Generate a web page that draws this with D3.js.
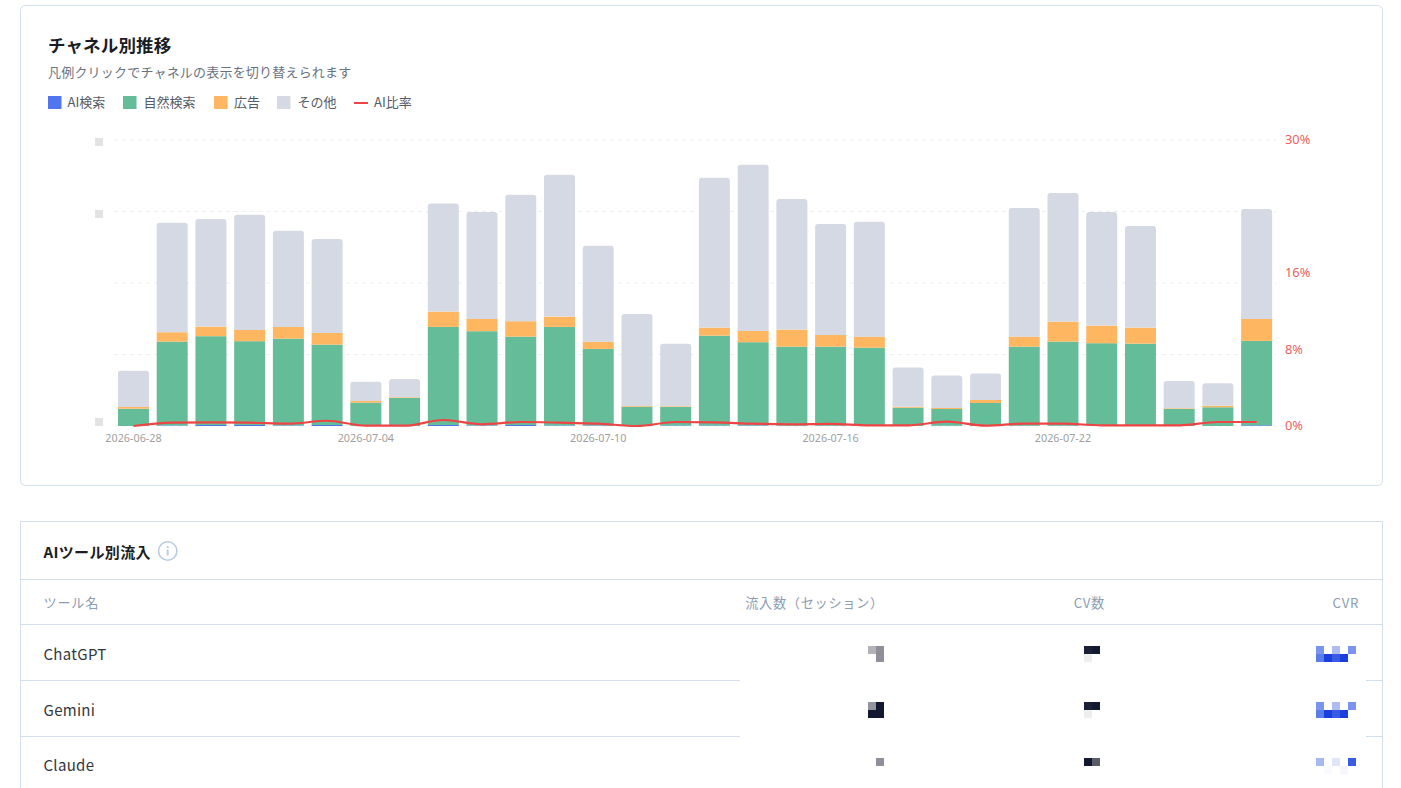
<!DOCTYPE html>
<html lang="ja">
<head>
<meta charset="utf-8">
<script src="https://cdn.jsdelivr.net/npm/d3@7"></script>
<style>
  html, body { margin: 0; padding: 0; background: #fff; overflow: hidden; }
  svg { display: block; }
  text { font-family: "Noto Sans CJK JP", "Noto Sans", sans-serif; }
</style>
</head>
<body>
<svg id="page" width="1401" height="788"></svg>
<script>
// Chart data
const dates = ["2026-06-28","2026-06-29","2026-06-30","2026-07-01","2026-07-02","2026-07-03","2026-07-04","2026-07-05","2026-07-06","2026-07-07",
  "2026-07-08","2026-07-09","2026-07-10","2026-07-11","2026-07-12","2026-07-13","2026-07-14","2026-07-15","2026-07-16","2026-07-17",
  "2026-07-18","2026-07-19","2026-07-20","2026-07-21","2026-07-22","2026-07-23","2026-07-24","2026-07-25","2026-07-26","2026-07-27"];
const aiSearch = [0,7,14,14,7,14,0,0,14,7,14,7,7,0,7,7,7,4,4,4,0,4,0,4,4,2,2,0,0,10];
const organic = [242,1173,1242,1172,1215,1124,326,392,1372,1319,1236,1379,1071,270,259,1257,1165,1106,1106,1092,256,234,322,1106,1176,1156,1150,238,262,1180];
const ads = [24,132,134,158,164,164,24,10,214,172,216,144,102,10,10,112,158,238,164,154,14,14,42,140,280,246,224,10,22,308];
const others = [508,1530,1504,1610,1344,1312,270,256,1512,1494,1768,1984,1340,1288,876,2096,2324,1826,1550,1606,549,455,371,1798,1798,1588,1420,382,314,1536];
const aiRatio = [0,0.35,0.39,0.35,0.24,0.55,0.03,0.03,0.63,0.18,0.42,0.35,0.24,0,0.42,0.39,0.24,0.18,0.23,0.07,0.07,0.45,0.03,0.24,0.24,0.07,0.07,0.07,0.42,0.42];

const seriesKeys = ["aiSearch","organic","ads","others"];
const seriesColors = ["#5075EE","#65BC98","#FFB660","#D5D9E4"];
const legendLabels = ["AI検索","自然検索","広告","その他","AI比率"];
const xTickDates = ["2026-06-28","2026-07-04","2026-07-10","2026-07-16","2026-07-22"];
const ratioTicks = [0,8,16,30];
const gridTicks = [0,1000,2000,3000,4000];
const hiddenLeftTicks = [4000,3000,0];

// Table contents, the numbers are pixelated in the source so they stay as colour blocks
const toolNames = ["ChatGPT","Gemini","Claude"];
const tableHeaders = ["ツール名","流入数（セッション）","CV数","CVR"];
const sessionBlocks = [
  [["#B2B2B8","#8E8F98"],[null,"#8E8F98"]],
  [["#9394A0","#111830"],["#111830","#111830"]],
  [[null,"#8E8F98"]]
];
const cvBlocks = [
  [["#1A2035","#111830"],["#EEEFF1",null]],
  [["#1A2035","#111830"],["#EEEFF1",null]],
  [["#111830","#5A5C68"]]
];
const cvrBlocks = [
  [["#7A94EE",null,"#AEBCF2",null,"#7A94EE"],["#5B7DE8","#1A3FDC","#3A5BE2","#1A3FDC",null]],
  [["#7A94EE",null,"#AEBCF2",null,"#7A94EE"],["#5B7DE8","#1A3FDC","#3A5BE2","#1A3FDC",null]],
  [["#A8B8F0",null,"#E0E5F8",null,"#3A5BE2"],[null,"#FAFBFE",null,"#F5F6FC",null]]
];

const svg = d3.select("#page");
const borderColor = "#D3DFEC";

// Top card
svg.append("rect")
  .attr("x", 20.5).attr("y", 5.5).attr("width", 1362).attr("height", 480).attr("rx", 5)
  .attr("fill", "#fff").attr("stroke", borderColor);

svg.append("text").attr("x", 48).attr("y", 52)
  .attr("font-size", 17.5).attr("font-weight", 700).attr("letter-spacing", 0.15).attr("fill", "#1A1D24")
  .text("チャネル別推移");
svg.append("text").attr("x", 48).attr("y", 76.5)
  .attr("font-size", 13).attr("letter-spacing", 0.2).attr("fill", "#6B7280")
  .text("凡例クリックでチャネルの表示を切り替えられます");

// Legend
const legendX = [48,123,214,277,354];
const legendTextX = [67.5,143.5,234,297.5,374];
legendLabels.forEach((label, i) => {
  if (i < 4) {
    svg.append("rect").attr("x", legendX[i]).attr("y", 96).attr("width", 13.5).attr("height", 13)
      .attr("fill", seriesColors[i]);
  } else {
    svg.append("line").attr("x1", legendX[i]).attr("x2", legendX[i] + 14).attr("y1", 103).attr("y2", 103)
      .attr("stroke", "#EF4444").attr("stroke-width", 2);
  }
  svg.append("text").attr("x", legendTextX[i]).attr("y", 107)
    .attr("font-size", 13).attr("fill", "#555B66").text(label);
});

// Scales
const x = d3.scaleBand().domain(dates).range([114.1, 1276]).paddingInner(0.2).paddingOuter(0.1);
const y = d3.scaleLinear().domain([0, 4000]).range([426, 140]);
const yRatio = d3.scaleLinear().domain([0, 30]).range([426, 140]);

// Grid
svg.append("g").selectAll("line").data(gridTicks).join("line")
  .attr("x1", 114).attr("x2", 1276)
  .attr("y1", (d) => y(d)).attr("y2", (d) => y(d))
  .attr("stroke", "#EEEFF1").attr("stroke-dasharray", "4 4");

// Bars
const rows = dates.map((d, i) => ({
  date: d, aiSearch: aiSearch[i], organic: organic[i], ads: ads[i], others: others[i]
}));
const stacked = d3.stack().keys(seriesKeys)(rows);
const radius = 3;

stacked.forEach((layer, li) => {
  const g = svg.append("g").attr("fill", seriesColors[li]);
  if (seriesKeys[li] === "others") {
    g.selectAll("path").data(layer).join("path").attr("d", (d) => {
      const x0 = x(d.data.date), x1 = x0 + x.bandwidth();
      const top = y(d[1]), bottom = y(d[0]);
      return `M${x0},${bottom}V${top + radius}Q${x0},${top} ${x0 + radius},${top}H${x1 - radius}Q${x1},${top} ${x1},${top + radius}V${bottom}Z`;
    });
  } else {
    g.selectAll("rect").data(layer).join("rect")
      .attr("x", (d) => x(d.data.date))
      .attr("width", x.bandwidth())
      .attr("y", (d) => y(d[1]))
      .attr("height", (d) => y(d[0]) - y(d[1]));
  }
});

// AI ratio line
const line = d3.line()
  .x((d, i) => x(dates[i]) + x.bandwidth() / 2)
  .y((d) => yRatio(d))
  .curve(d3.curveMonotoneX);
svg.append("path").datum(aiRatio)
  .attr("d", line).attr("fill", "none")
  .attr("stroke", "#EF4444").attr("stroke-width", 2.2);

// Axes
const xAxis = svg.append("g").attr("transform", "translate(0,426)")
  .call(d3.axisBottom(x).tickValues(xTickDates).tickSize(0).tickPadding(8));
xAxis.select(".domain").remove();
xAxis.selectAll("text").attr("font-size", 10.8).attr("fill", "#A0A0A0")
  .style("font-family", '"Noto Sans", sans-serif');

const rightAxis = svg.append("g").attr("transform", "translate(1285,-0.7)")
  .call(d3.axisRight(yRatio).tickValues(ratioTicks).tickFormat((d) => d + "%").tickSize(0).tickPadding(0));
rightAxis.select(".domain").remove();
rightAxis.selectAll("text").attr("font-size", 12.8).attr("fill", "#EE5F5F")
  .style("font-family", '"Noto Sans", sans-serif');

// Left axis labels are blanked out in the source
const hiddenOffsets = [-2, -1.5, -8];
svg.append("g").selectAll("rect").data(hiddenLeftTicks).join("rect")
  .attr("x", 95).attr("width", 8).attr("height", 8)
  .attr("y", (d, i) => y(d) + hiddenOffsets[i])
  .attr("fill", "#E3E3E3");

// Table card
svg.append("path")
  .attr("d", "M20.5,788V521.5H1382.5V788")
  .attr("fill", "#fff").attr("stroke", borderColor);
svg.append("text").attr("x", 43.5).attr("y", 557.5)
  .attr("font-size", 15).attr("font-weight", 700).attr("letter-spacing", 0.35).attr("fill", "#1A1D24")
  .text("AIツール別流入");

const info = svg.append("g").attr("transform", "translate(167.7,551)");
info.append("circle").attr("r", 9.2).attr("fill", "none").attr("stroke", "#B9CBE0").attr("stroke-width", 1.6);
info.append("rect").attr("x", -0.9).attr("y", -1.5).attr("width", 1.8).attr("height", 6).attr("fill", "#B9CBE0");
info.append("rect").attr("x", -0.9).attr("y", -5).attr("width", 1.8).attr("height", 2).attr("fill", "#B9CBE0");

// Table rules: the two lower rows are cut by the white block over the numbers
[579.5, 624.5].forEach((ly) => {
  svg.append("line").attr("x1", 21).attr("x2", 1382).attr("y1", ly).attr("y2", ly).attr("stroke", borderColor);
});
[680.5, 736.5].forEach((ly) => {
  svg.append("line").attr("x1", 21).attr("x2", 740).attr("y1", ly).attr("y2", ly).attr("stroke", borderColor);
  svg.append("line").attr("x1", 1366).attr("x2", 1382).attr("y1", ly).attr("y2", ly).attr("stroke", borderColor);
});

// Table text
const headerX = [43.5, 884, 1105, 1359];
const headerAnchor = ["start", "end", "end", "end"];
tableHeaders.forEach((h, i) => {
  svg.append("text").attr("x", headerX[i]).attr("y", 607.5)
    .attr("text-anchor", headerAnchor[i])
    .attr("font-size", 13.2).attr("letter-spacing", 0.7).attr("fill", "#8C9DB2")
    .text(h);
});

const rowTextY = [660, 716, 771];
toolNames.forEach((name, i) => {
  svg.append("text").attr("x", 43.5).attr("y", rowTextY[i])
    .attr("font-size", 15).attr("letter-spacing", 0.3).attr("fill", "#33363D")
    .text(name);
});

// Pixelated numbers
const blockRowY = [646, 702, 758];
const blockSize = 8;
function drawBlocks(blocks, left) {
  blocks.forEach((block, r) => {
    block.forEach((cells, row) => {
      cells.forEach((color, col) => {
        if (!color) return;
        svg.append("rect")
          .attr("x", left + col * blockSize)
          .attr("y", blockRowY[r] + row * blockSize)
          .attr("width", blockSize).attr("height", blockSize)
          .attr("fill", color);
      });
    });
  });
}
drawBlocks(sessionBlocks, 868);
drawBlocks(cvBlocks, 1084);
drawBlocks(cvrBlocks, 1316);
</script>
</body>
</html>
